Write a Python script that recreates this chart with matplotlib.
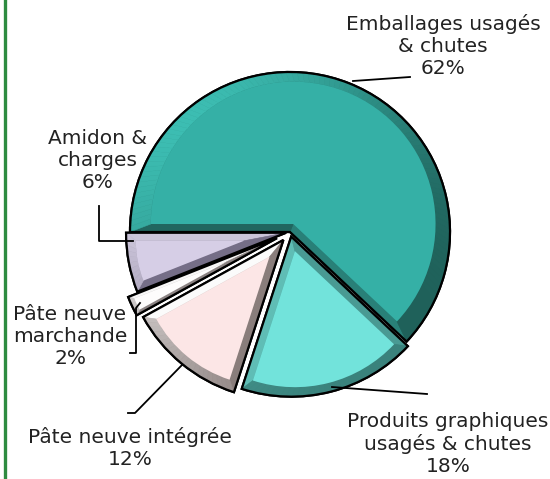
import numpy as np
import matplotlib
matplotlib.use("Agg")
import matplotlib.pyplot as plt
from matplotlib.patches import Wedge, Polygon
from matplotlib.colors import to_rgb
from matplotlib.lines import Line2D

# Data
labels = [
    "Emballages usagés\n& chutes\n62%",
    "Produits graphiques\nusagés & chutes\n18%",
    "Pâte neuve intégrée\n12%",
    "Pâte neuve\nmarchande\n2%",
    "Amidon &\ncharges\n6%",
]
shares = [62, 18, 12, 2, 6]
explode = [0.0, 0.03, 0.065, 0.09, 0.025]

main_colors = ["#35b0a6", "#72e3db", "#fce6e6", "#fdfcfc", "#d6cee6"]
bevel_light = ["#3cbdb2", "#62c2ba", "#ffffff", "#ffffff", "#e2dbef"]
bevel_dark = ["#1f615a", "#3a827c", "#877b79", "#8a8282", "#746d86"]

W, H = 550, 479
CX, CY = 290, H - 232
R = 160
LIGHT_DIR = 135  # light from the upper left

plt.rcParams["font.family"] = ["DejaVu Sans"]

fig = plt.figure(figsize=(5.5, 4.79), dpi=100)
ax = fig.add_axes([0, 0, 1, 1])

wedges, _ = ax.pie(
    shares,
    explode=[e * R for e in explode],
    radius=R,
    center=(CX, CY),
    startangle=180,
    counterclock=False,
    colors=bevel_dark,
    wedgeprops=dict(edgecolor="black", linewidth=1.6),
)


def shade(normal_deg, light, dark):
    k = np.cos(np.radians(normal_deg - LIGHT_DIR))
    t = ((k + 1) / 2) ** 1.5
    l, d = np.array(to_rgb(light)), np.array(to_rgb(dark))
    return tuple(d + (l - d) * t)


def polar(c, r, deg):
    return (c[0] + r * np.cos(np.radians(deg)), c[1] + r * np.sin(np.radians(deg)))


for w, main, lc, dc, sh in zip(wedges, main_colors, bevel_light, bevel_dark, shares):
    d = 8 if sh > 5 else 3.5
    arc_d = 9 if sh > 5 else 5
    t1, t2 = w.theta1, w.theta2
    c = w.center
    a = np.radians((t2 - t1) / 2)
    b = (t1 + t2) / 2
    s = d / np.sin(a)
    ci = polar(c, s, b)
    ri = w.r - arc_d - s

    # straight edges
    for t, n in ((t1, t1 - 90), (t2, t2 + 90)):
        quad = [c, polar(c, w.r, t), polar(ci, ri, t), ci]
        col = shade(n, lc, dc)
        ax.add_patch(Polygon(quad, closed=True, facecolor=col, edgecolor=col,
                             linewidth=0.4, zorder=2))
    # arc, in small steps
    steps = np.linspace(t1, t2, max(int((t2 - t1) / 2), 3) + 1)
    for u, v in zip(steps[:-1], steps[1:]):
        quad = [polar(c, w.r, u), polar(c, w.r, v), polar(ci, ri, v), polar(ci, ri, u)]
        col = shade((u + v) / 2, lc, dc)
        ax.add_patch(Polygon(quad, closed=True, facecolor=col, edgecolor=col,
                             linewidth=0.4, zorder=2))

    inner = Wedge(ci, ri, t1, t2, facecolor=main, edgecolor="none", zorder=3)
    inner.set_clip_path(w)
    ax.add_patch(inner)
    ax.add_patch(Wedge(c, w.r, t1, t2, facecolor="none", edgecolor="black",
                       linewidth=1.6, zorder=4))

# labels
label_pos = [(443, 46), (448, 444), (130, 448), (70, 337), (98, 160)]
for lab, (x, y) in zip(labels, label_pos):
    ax.text(x, H - y, lab, ha="center", va="center", fontsize=14.5,
            color="#222222", linespacing=1.2)

# leader lines
leaders = [
    [(410, 77), (353, 81)],
    [(427, 394), (332, 387)],
    [(128, 413), (135, 413), (182, 365)],
    [(130, 353), (136, 353), (136, 308), (140, 303)],
    [(99, 206), (99, 241), (133, 241)],
]
for pts in leaders:
    xs = [p[0] for p in pts]
    ys = [H - p[1] for p in pts]
    ax.plot(xs, ys, color="black", linewidth=1.3, zorder=5)

ax.set_xlim(0, W)
ax.set_ylim(0, H)
ax.set_aspect("equal")
ax.axis("off")

# green frame line on the left
fig.add_artist(Line2D([4.5 / W, 4.5 / W], [0, 1], color="#2e8b40",
                      linewidth=2.4, transform=fig.transFigure))

fig.savefig("out.png", dpi=100)
